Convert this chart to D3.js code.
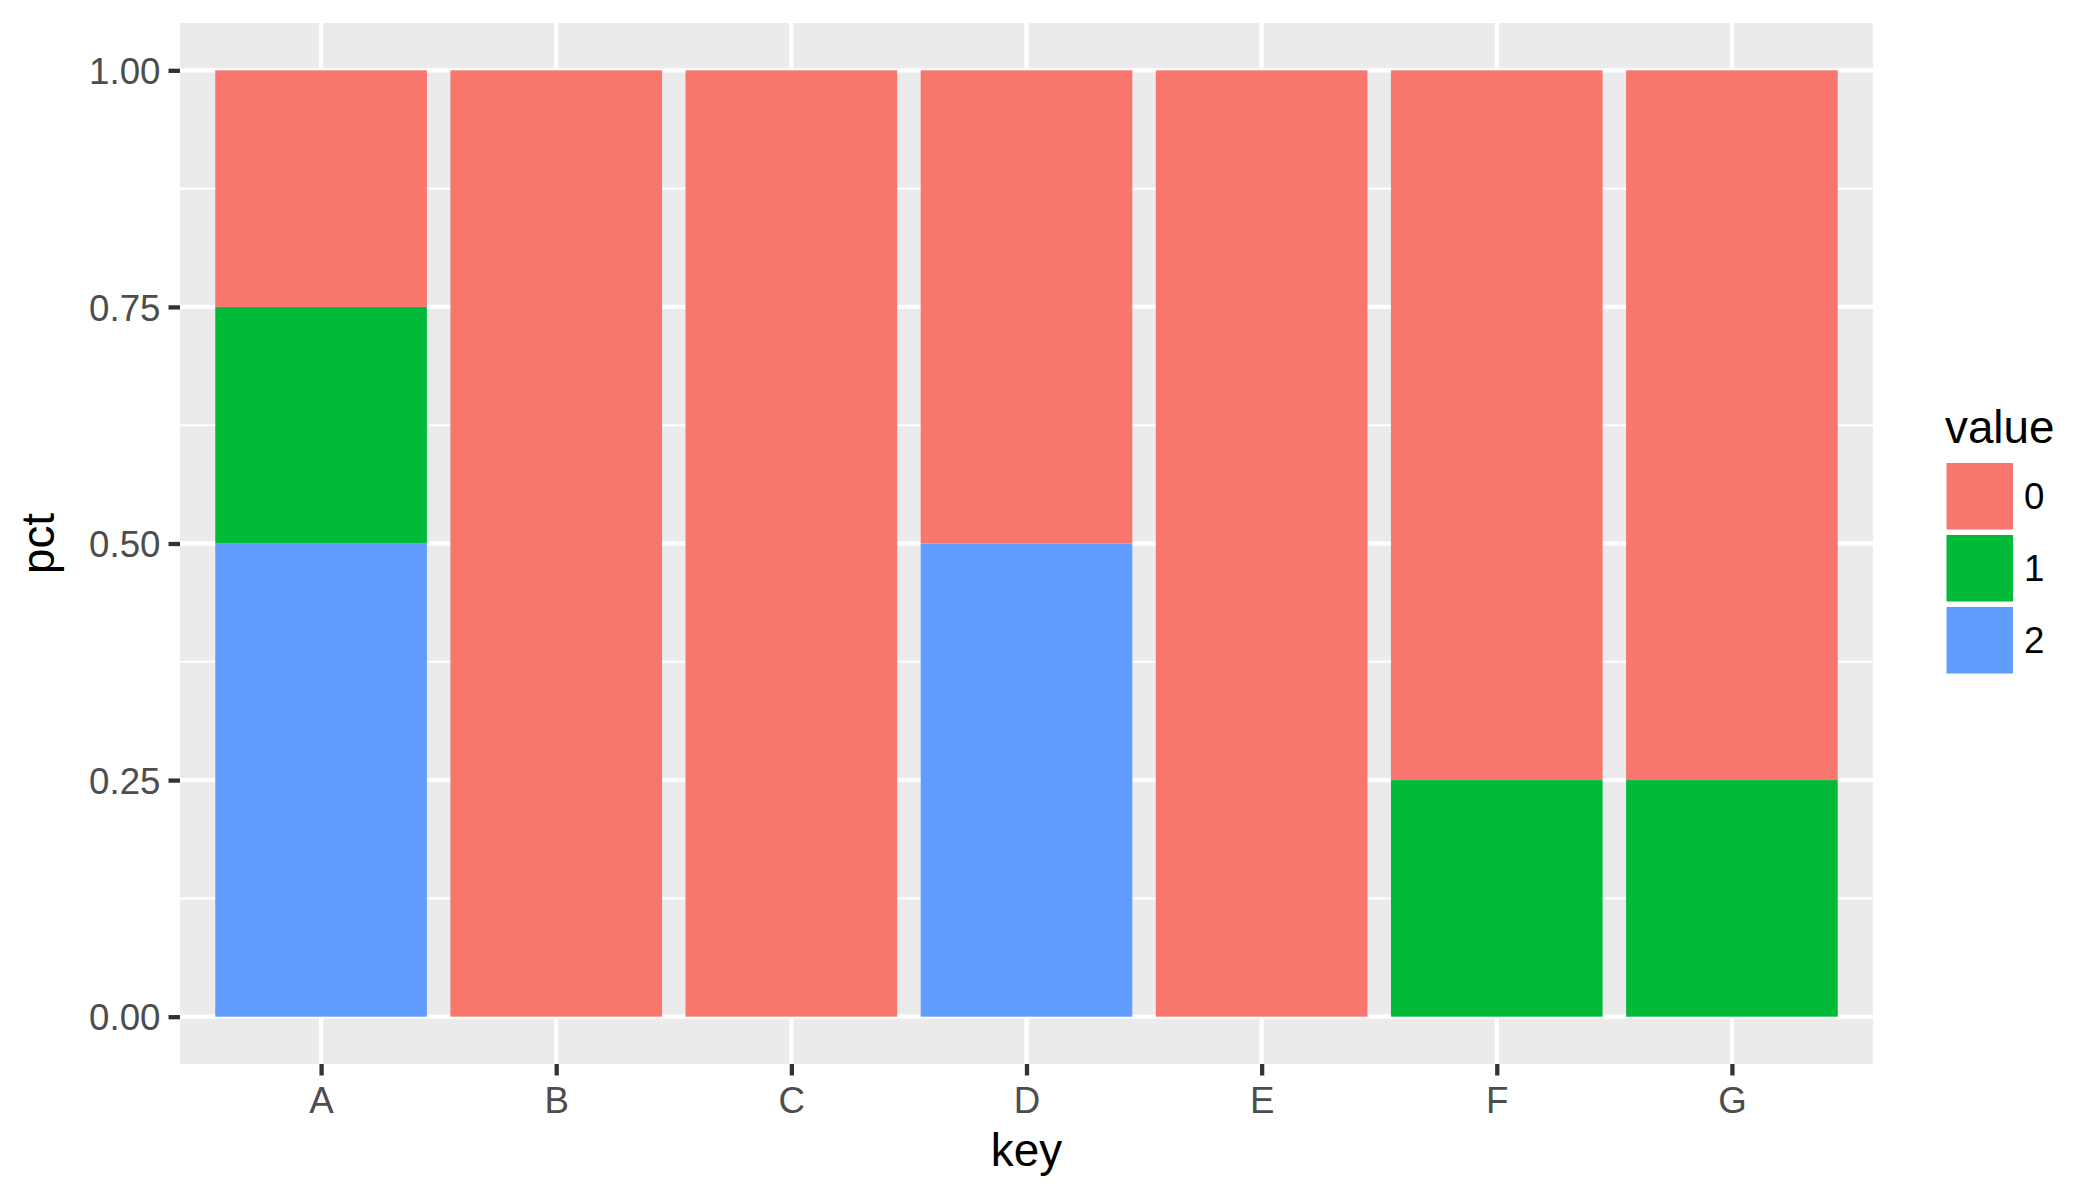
<!DOCTYPE html>
<html>
<head>
<meta charset="utf-8">
<script src="https://cdn.jsdelivr.net/npm/d3@7"></script>
<style>
  html, body { margin: 0; padding: 0; background: #ffffff; }
  svg { display: block; }
  text { font-family: "Liberation Sans", Arial, sans-serif; }
</style>
</head>
<body>
<svg id="chart" width="2099" height="1200"></svg>
<script>
// ---- data ----
const categories = ["A", "B", "C", "D", "E", "F", "G"];
const valueLevels = ["0", "1", "2"];
const pct0 = [0.25, 1.00, 1.00, 0.50, 1.00, 0.75, 0.75];
const pct1 = [0.25, 0.00, 0.00, 0.00, 0.00, 0.25, 0.25];
const pct2 = [0.50, 0.00, 0.00, 0.50, 0.00, 0.00, 0.00];
const yTicks = [0, 0.25, 0.5, 0.75, 1.0];
const yTickLabels = ["0.00", "0.25", "0.50", "0.75", "1.00"];
const fillColors = ["#F8766D", "#00BA38", "#619CFF"];
const xTitle = "key";
const yTitle = "pct";
const legendTitle = "value";

// ---- layout ----
const svg = d3.select("#chart");
const panel = { left: 180, top: 23, right: 1873, bottom: 1064 };

const rows = categories.map((c, i) => ({ key: c, "0": pct0[i], "1": pct1[i], "2": pct2[i] }));

// discrete x with ggplot expansion 0.6 units each side
const xIndex = d3.scaleLinear()
  .domain([0.4, categories.length + 0.6])
  .range([panel.left, panel.right]);
const x = c => xIndex(categories.indexOf(c) + 1);
const unit = xIndex(1) - xIndex(0);
const barW = unit * 0.9;

const y = d3.scaleLinear()
  .domain([-0.05, 1.05])
  .range([panel.bottom, panel.top]);

// panel background
svg.append("rect")
  .attr("x", panel.left).attr("y", panel.top)
  .attr("width", panel.right - panel.left)
  .attr("height", panel.bottom - panel.top)
  .attr("fill", "#EBEBEB");

// minor grid (y)
const minorY = [0.125, 0.375, 0.625, 0.875];
svg.append("g").selectAll("line").data(minorY).join("line")
  .attr("x1", panel.left).attr("x2", panel.right)
  .attr("y1", d => y(d)).attr("y2", d => y(d))
  .attr("stroke", "#ffffff").attr("stroke-width", 2.1);

// major grid
svg.append("g").selectAll("line").data(yTicks).join("line")
  .attr("x1", panel.left).attr("x2", panel.right)
  .attr("y1", d => y(d)).attr("y2", d => y(d))
  .attr("stroke", "#ffffff").attr("stroke-width", 4.3);
svg.append("g").selectAll("line").data(categories).join("line")
  .attr("y1", panel.top).attr("y2", panel.bottom)
  .attr("x1", d => x(d)).attr("x2", d => x(d))
  .attr("stroke", "#ffffff").attr("stroke-width", 4.3);

// stacked bars: level "2" at bottom, "0" on top
const stackKeys = valueLevels.slice().reverse();
const series = d3.stack().keys(stackKeys)(rows);
const color = d3.scaleOrdinal().domain(valueLevels).range(fillColors);

svg.append("g").selectAll("g").data(series).join("g")
  .attr("fill", s => color(s.key))
  .selectAll("rect").data(s => s.filter(d => d[1] - d[0] > 0)).join("rect")
  .attr("x", d => x(d.data.key) - barW / 2)
  .attr("width", barW)
  .attr("y", d => y(d[1]))
  .attr("height", d => y(d[0]) - y(d[1]));

// y axis
const yAxis = d3.axisLeft(y)
  .tickValues(yTicks)
  .tickFormat((d, i) => yTickLabels[i])
  .tickSizeInner(11.5).tickSizeOuter(0).tickPadding(8);
const gy = svg.append("g").attr("transform", `translate(${panel.left},0)`).call(yAxis);
gy.select(".domain").remove();
gy.selectAll(".tick line").attr("stroke", "#333333").attr("stroke-width", 4.3);
gy.selectAll(".tick text")
  .attr("fill", "#4D4D4D")
  .style("font-size", "36.7px")
  .style("font-family", "'Liberation Sans', Arial, sans-serif")
  .attr("dy", "0.36em");

// x axis
const xBand = d3.scalePoint().domain(categories)
  .range([x(categories[0]), x(categories[categories.length - 1])]);
const xAxis = d3.axisBottom(xBand).tickSizeInner(11.5).tickSizeOuter(0).tickPadding(8);
const gx = svg.append("g").attr("transform", `translate(0,${panel.bottom})`).call(xAxis);
gx.select(".domain").remove();
gx.selectAll(".tick line").attr("stroke", "#333333").attr("stroke-width", 4.3);
gx.selectAll(".tick text")
  .attr("fill", "#4D4D4D")
  .style("font-size", "36.7px")
  .style("font-family", "'Liberation Sans', Arial, sans-serif")
  .attr("y", 0).attr("dy", 0)
  .attr("transform", "translate(0,48.7)");

// axis titles
svg.append("text")
  .attr("x", (panel.left + panel.right) / 2).attr("y", 1166)
  .attr("text-anchor", "middle")
  .style("font-size", "45.8px").attr("fill", "#000000")
  .text(xTitle);
svg.append("text")
  .attr("transform", `translate(54,${(panel.top + panel.bottom) / 2}) rotate(-90)`)
  .attr("text-anchor", "middle")
  .style("font-size", "45.8px").attr("fill", "#000000")
  .text(yTitle);

// legend
const legX = 1945, legKeyTop = 463, keySize = 72;
svg.append("text")
  .attr("x", legX).attr("y", 443)
  .style("font-size", "45.8px").attr("fill", "#000000")
  .text(legendTitle);
const lg = svg.append("g").selectAll("g").data(valueLevels).join("g")
  .attr("transform", (d, i) => `translate(${legX},${legKeyTop + i * keySize})`);
lg.append("rect")
  .attr("x", 1.5).attr("y", 0)
  .attr("width", keySize - 5.5).attr("height", keySize - 5.5)
  .attr("fill", d => color(d));
lg.append("text")
  .attr("x", 79).attr("y", (keySize - 5.5) / 2)
  .attr("dy", "0.36em")
  .style("font-size", "36.7px").attr("fill", "#000000")
  .text(d => d);
</script>
</body>
</html>
